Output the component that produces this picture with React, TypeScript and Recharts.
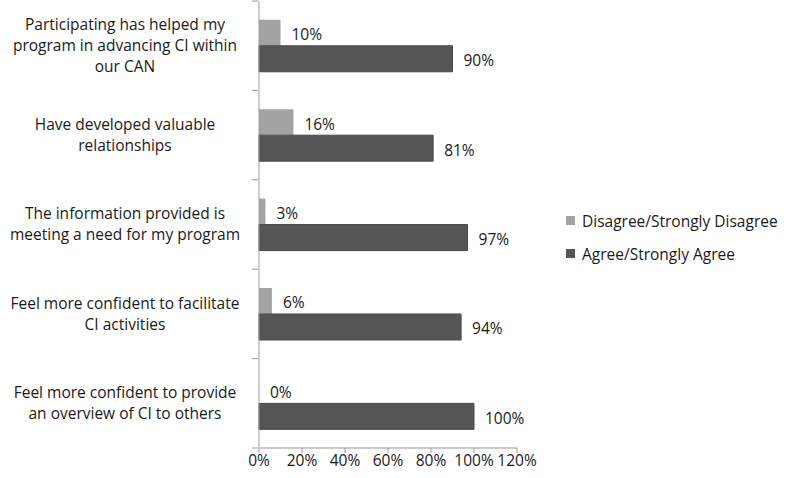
import React from 'react';
import { BarChart, Bar, XAxis, YAxis } from 'recharts';

const categories = [
  'Participating has helped my program in advancing CI within our CAN',
  'Have developed valuable relationships',
  'The information provided is meeting a need for my program',
  'Feel more confident to facilitate CI activities',
  'Feel more confident to provide an overview of CI to others',
];
const categoryLines: string[][] = [
  ['Participating has helped my', 'program in advancing CI within', 'our CAN'],
  ['Have developed valuable', 'relationships'],
  ['The information provided is', 'meeting a need for my program'],
  ['Feel more confident to facilitate', 'CI activities'],
  ['Feel more confident to provide', 'an overview of CI to others'],
];
const seriesNames = ['Disagree/Strongly Disagree', 'Agree/Strongly Agree'];
const disagree = [10, 16, 3, 6, 0];
const agree = [90, 81, 97, 94, 100];
const xTicks = [0, 20, 40, 60, 80, 100, 120];

const data = categories.map((c, i) => ({
  name: c,
  disagree: disagree[i],
  agree: agree[i],
}));

const FONT = '"Open Sans", sans-serif';
const FS = 15.5;
const TEXT = '#1a1a1a';
const AXIS = '#9a9a9a';
const LIGHT = '#a3a3a3';
const DARK = '#555555';

const YTick = (props: any) => {
  const { x, y, payload, index } = props;
  const lines = categoryLines[index] || [String(payload.value)];
  const half = payload.offset || 0;
  const lh = 21;
  const startY = y - ((lines.length - 1) * lh) / 2;
  return (
    <g>
      <line x1={x + 1} x2={x + 7} y1={y - half} y2={y - half} stroke={AXIS} />
      {index === categories.length - 1 && (
        <line x1={x + 1} x2={x + 7} y1={y + half} y2={y + half} stroke={AXIS} />
      )}
      <text x={125} y={startY} textAnchor="middle" fontFamily={FONT} fontSize={FS} fill={TEXT}>
        {lines.map((l, i) => (
          <tspan key={i} x={125} y={startY + i * lh} dy="0.35em">
            {l}
          </tspan>
        ))}
      </text>
    </g>
  );
};

const ValueLabel = (props: any) => {
  const { x, y, width, height, value } = props;
  if (x == null || y == null) return null;
  return (
    <text
      x={Number(x) + Number(width || 0) + 11}
      y={Number(y) + Number(height || 0) / 2 + 2}
      dy="0.35em"
      fontFamily={FONT}
      fontSize={FS}
      fill={TEXT}
    >
      {`${value}%`}
    </text>
  );
};

const LegendBox = () => {
  const colors = [LIGHT, DARK];
  return (
    <div
      style={{
        position: 'absolute',
        left: 566,
        top: 204,
        fontFamily: FONT,
        fontSize: FS,
        color: TEXT,
        whiteSpace: 'nowrap',
      }}
    >
      {seriesNames.map((label, i) => (
        <div key={label} style={{ display: 'flex', alignItems: 'center', height: 33 }}>
          <span style={{ display: 'inline-block', width: 9, height: 9, background: colors[i], marginRight: 7 }} />
          <span>{label}</span>
        </div>
      ))}
    </div>
  );
};

export default function App() {
  return (
    <div style={{ position: 'absolute', left: 0, top: 0, width: 787, height: 478, background: '#fff' }}>
      <BarChart
        width={787}
        height={478}
        data={data}
        layout="vertical"
        margin={{ top: 1, right: 270, bottom: 0, left: 0 }}
        barCategoryGap="21%"
        barGap={0}
      >
        <XAxis
          type="number"
          domain={[0, 120]}
          ticks={xTicks}
          tickFormatter={(v: number) => `${v}%`}
          axisLine={{ stroke: AXIS }}
          tickLine={{ stroke: AXIS }}
          tickSize={5}
          height={30}
          interval={0}
          tick={{ fontFamily: FONT, fontSize: FS, fill: TEXT }}
        />
        <YAxis
          type="category"
          dataKey="name"
          width={259}
          axisLine={{ stroke: AXIS }}
          tickLine={false}
          tick={<YTick />}
          interval={0}
        />
        <Bar
          dataKey="disagree"
          name={seriesNames[0]}
          fill={LIGHT}
          minPointSize={0.01}
          isAnimationActive={false}
          label={<ValueLabel />}
        />
        <Bar
          dataKey="agree"
          name={seriesNames[1]}
          fill={DARK}
          stroke="#4a4a4a"
          isAnimationActive={false}
          label={<ValueLabel />}
        />
      </BarChart>
      <LegendBox />
    </div>
  );
}
